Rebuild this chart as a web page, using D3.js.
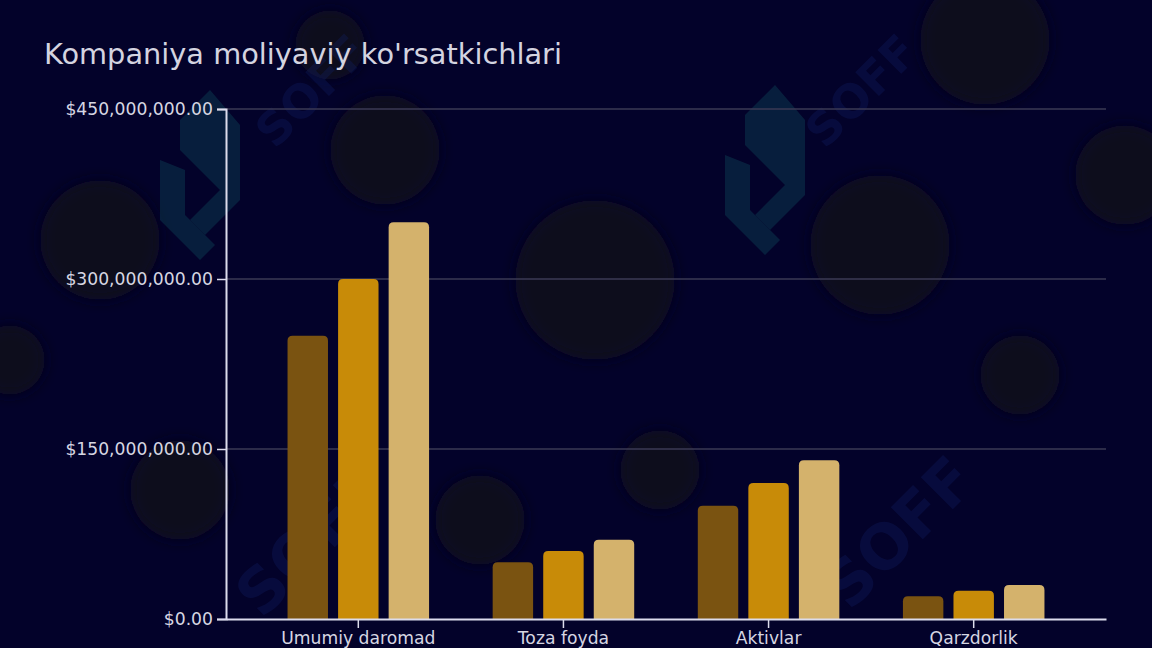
<!DOCTYPE html>
<html><head><meta charset="utf-8">
<script src="https://cdn.jsdelivr.net/npm/d3@7"></script>
<style>html,body{margin:0;padding:0;background:#03022a;overflow:hidden}svg{display:block}
text{font-family:"DejaVu Sans","Verdana",sans-serif}</style>
</head><body>
<svg id="c" width="1152" height="648"></svg>
<script>
const categories = ["Umumiy daromad", "Toza foyda", "Aktivlar", "Qarzdorlik"];
const seriesNames = ["2021", "2022", "2023"];
const series2021 = [250000000, 50000000, 100000000, 20000000];
const series2022 = [300000000, 60000000, 120000000, 25000000];
const series2023 = [350000000, 70000000, 140000000, 30000000];
const yTicks = [0, 150000000, 300000000, 450000000];
const title = "Kompaniya moliyaviy ko'rsatkichlari";

const colors = ["#7a5311", "#c88b08", "#d4b26c"];
const allSeries = [series2021, series2022, series2023];

const svg = d3.select("#c");
const W = 1152, H = 648;
const m = {left: 226, right: 46, top: 109, bottom: 29};

// background
const defs = svg.append("defs");
defs.append("filter").attr("id","blur").attr("x","-50%").attr("y","-50%").attr("width","200%").attr("height","200%")
  .append("feGaussianBlur").attr("stdDeviation", 7);
svg.append("rect").attr("width", W).attr("height", H).attr("fill", "#03022a");
const blobs = [[100,240,60],[385,150,55],[595,280,80],[880,245,70],[1020,375,40],[985,40,65],[1125,175,50],[180,490,50],[10,360,35],[330,45,35],[660,470,40],[480,520,45]];
svg.append("g").attr("filter","url(#blur)").selectAll("circle").data(blobs).join("circle")
  .attr("cx", d=>d[0]).attr("cy", d=>d[1]).attr("r", d=>d[2]).attr("fill", "#08071b");

// watermark logos
function logo(g, x, y, s) {
  const lg = g.append("g").attr("transform", `translate(${x},${y}) scale(${s})`).attr("opacity", 0.4);
  lg.append("path").attr("d","M-20,-60 L10,-90 L40,-55 L40,20 L5,55 L-10,40 L20,10 L-20,-30 Z").attr("fill","#0f4a5a");
  lg.append("path").attr("d","M-40,-20 L-40,40 L0,80 L15,65 L-15,35 L-15,-10 Z").attr("fill","#0f4a5a");
}
const wm = svg.append("g");
logo(wm, 200, 180, 1.0);
logo(wm, 765, 175, 1.0);
const wmText = [[275,150,46],[825,150,46],[262,620,62],[850,612,62]];
wm.selectAll("text.wm").data(wmText).join("text").attr("class","wm")
  .attr("transform", d=>`translate(${d[0]},${d[1]}) rotate(-45)`)
  .attr("font-weight","bold").attr("font-size", d=>d[2]).attr("fill","#12226a").attr("opacity",0.3).text("SOFF");

// scales
const x0 = d3.scaleBand().domain(categories).range([m.left, W - m.right]).paddingInner(0.31).paddingOuter(0.30);
const x1 = d3.scaleBand().domain(seriesNames).range([0, x0.bandwidth()]).paddingInner(0.2);
const y = d3.scaleLinear().domain([0, 450000000]).range([H - m.bottom, m.top]);
const fmt = v => "$" + d3.format(",.2f")(v);

// grid
svg.append("g").selectAll("line").data(yTicks.filter(t=>t>0)).join("line")
  .attr("x1", m.left).attr("x2", W - m.right).attr("y1", d=>y(d)).attr("y2", d=>y(d))
  .attr("stroke", "#3b3a55").attr("stroke-width", 1.5);

// bars
const g = svg.append("g");
categories.forEach((c, i) => {
  allSeries.forEach((s, j) => {
    const bx = x0(c) + x1(seriesNames[j]);
    const bw = x1.bandwidth();
    const top = y(s[i]), bot = y(0);
    const r = 5;
    g.append("path")
      .attr("d", `M${bx},${bot} L${bx},${top + r} Q${bx},${top} ${bx + r},${top} L${bx + bw - r},${top} Q${bx + bw},${top} ${bx + bw},${top + r} L${bx + bw},${bot} Z`)
      .attr("fill", colors[j]);
  });
});

// axes
const yAxis = svg.append("g").attr("transform", `translate(${m.left},0)`)
  .call(d3.axisLeft(y).tickValues(yTicks).tickFormat(fmt).tickSize(9).tickPadding(4));
yAxis.select(".domain").attr("stroke", "#dcdcec").attr("stroke-width", 2);
yAxis.selectAll(".tick line").attr("stroke", "#dcdcec").attr("stroke-width", 1.5);
yAxis.selectAll(".tick text").attr("fill", "#d6d6e2").attr("font-size", 17.2);

const xAxis = svg.append("g").attr("transform", `translate(0,${y(0)})`)
  .call(d3.axisBottom(x0).tickSize(9).tickPadding(4).tickSizeOuter(0));
xAxis.select(".domain").attr("stroke", "#dcdcec").attr("stroke-width", 2);
xAxis.selectAll(".tick line").attr("stroke", "#dcdcec").attr("stroke-width", 1.5);
xAxis.selectAll(".tick text").attr("fill", "#d6d6e2").attr("font-size", 17.2);
yAxis.attr("font-family", null); xAxis.attr("font-family", null);

// title
svg.append("text").attr("x", 44).attr("y", 64).attr("font-size", 28.8)
  .attr("fill", "#d4d4e0").text(title);
</script>
</body></html>
